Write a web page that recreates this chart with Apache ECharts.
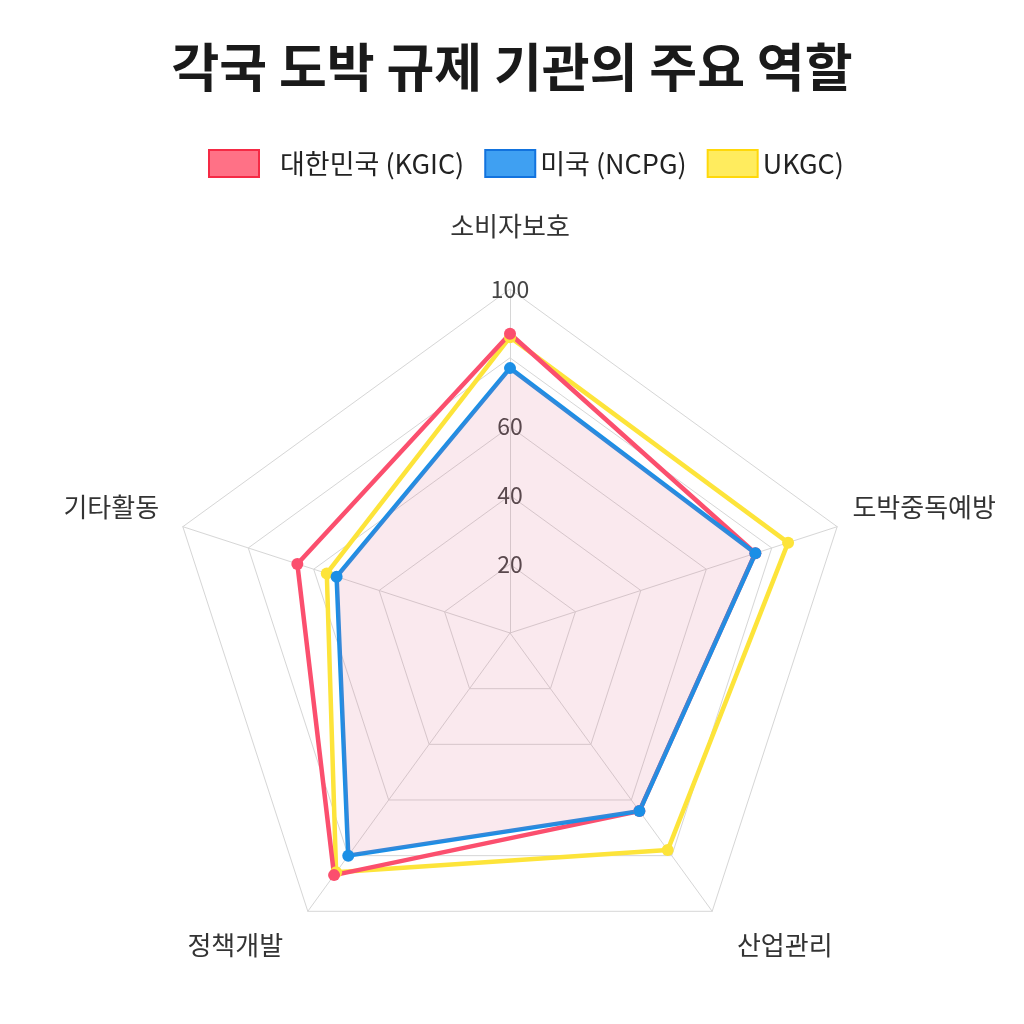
<!DOCTYPE html>
<html><head><meta charset="utf-8">
<script src="https://cdn.jsdelivr.net/npm/echarts@6/dist/echarts.min.js"></script>
<style>html,body{margin:0;padding:0;background:#fff}#c{width:1024px;height:1024px}</style>
</head><body><div id="c"></div>
<script>
const titleText = '각국 도박 규제 기관의 주요 역할';
const indicators = ['소비자보호', '도박중독예방', '산업관리', '정책개발', '기타활동'];
const seriesNames = ['대한민국 (KGIC)', '미국 (NCPG)', 'UKGC)'];
const koreaValues = [87, 75, 64, 87, 65];
const usaValues = [77, 75, 64, 80, 53];
const ukValues = [86, 85, 78, 86, 56];
const tickLabels = [20, 40, 60, 100];

const FONT = '"Noto Sans CJK KR", "Noto Sans", sans-serif';
const lineColors = ['#fb4f6e', '#1b8fe6', '#fde43a'];
const legendFill = ['#ff7186', '#3fa0f2', '#ffec5e'];
const legendBorder = ['#f52a45', '#1273de', '#ffd80a'];
const legendTextPad = [[0, 0, 0, 16], [0, 0, 0, 0], [0, 0, 0, 0]];
const nameGaps = [50, 16, 42, 42, 25];
const nameStyles = [null,
  { verticalAlign: 'bottom', lineHeight: 30 },
  null, null,
  { verticalAlign: 'bottom', lineHeight: 24 }];

// ECharts places indicators counter-clockwise; reorder so they run clockwise like the reference
const order = [0, 4, 3, 2, 1];
const reorder = arr => order.map(k => arr[k]);

const chart = echarts.init(document.getElementById('c'));
const valuesList = [koreaValues, usaValues, ukValues];
const drawOrder = [2, 0, 1];

chart.setOption({
  backgroundColor: '#ffffff',
  title: {
    text: titleText, left: 'center', top: 36,
    textStyle: { fontFamily: FONT, fontSize: 52, fontWeight: 'bold', color: '#1a1a1a' }
  },
  legend: {
    top: 144, left: 203, itemWidth: 50, itemHeight: 27, itemGap: 20,
    textStyle: { fontFamily: FONT, fontSize: 27, color: '#222' },
    data: seriesNames.map((n, i) => ({
      name: n, icon: 'rect',
      itemStyle: { color: legendFill[i], borderColor: legendBorder[i], borderWidth: 2 },
      textStyle: { padding: legendTextPad[i] }
    }))
  },
  radar: {
    center: [510, 633], radius: 344,
    splitNumber: 5, shape: 'polygon',
    axisName: { fontFamily: FONT, fontSize: 26, color: '#333' },
    splitLine: { lineStyle: { color: '#d6d6d6', width: 1 } },
    splitArea: { show: false },
    axisLine: { lineStyle: { color: '#d6d6d6', width: 1 } },
    indicator: order.map(k => {
      const o = { name: indicators[k], max: 100, min: 0, nameGap: nameGaps[k] };
      if (nameStyles[k]) o.nameTextStyle = nameStyles[k];
      if (k === 0) {
        o.axisLabel = {
          show: true, fontFamily: FONT, fontSize: 23, color: '#444',
          align: 'center', margin: 0,
          formatter: v => (tickLabels.indexOf(v) >= 0 ? String(v) : '')
        };
      }
      return o;
    })
  },
  series: drawOrder.map(i => ({
    type: 'radar', name: seriesNames[i],
    symbol: 'circle', symbolSize: 12,
    lineStyle: { color: lineColors[i], width: 4.5 },
    itemStyle: { color: lineColors[i] },
    areaStyle: i === 1 ? { color: 'rgba(222,100,138,0.2)' } : undefined,
    data: [{ value: reorder(valuesList[i]), name: seriesNames[i] }]
  }))
});
</script></body></html>
